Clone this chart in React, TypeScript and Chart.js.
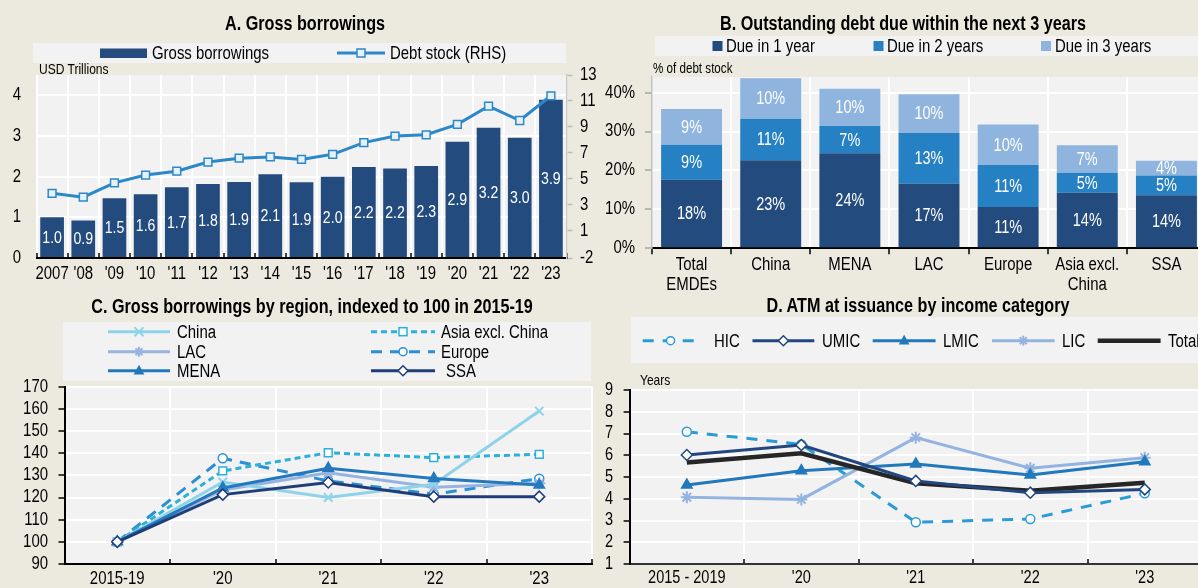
import React, { useEffect, useRef } from 'react';
import { Chart, registerables } from 'chart.js';

Chart.register(...registerables);

const FONT = '"Liberation Sans", Arial, sans-serif';
Chart.defaults.font.family = FONT;
Chart.defaults.color = '#000';

const NARROW = 0.83;
const TICK = 18;

const BG = '#ECEADF';
const PLOT = '#F2F2F2';
const NAVY = '#234B7E';
const MID = '#2581C4';
const LIGHT = '#8FB4DE';
const A_LINE = '#2C88C9';

// ---------- Panel A ----------
const yearsA = ['2007', "'08", "'09", "'10", "'11", "'12", "'13", "'14", "'15", "'16", "'17", "'18", "'19", "'20", "'21", "'22", "'23"];
const grossBorrowings = [1.0, 0.92, 1.47, 1.57, 1.74, 1.82, 1.87, 2.06, 1.86, 2.0, 2.24, 2.2, 2.26, 2.86, 3.2, 2.96, 3.89];
const debtStock = [3.9, 3.6, 4.7, 5.3, 5.6, 6.3, 6.6, 6.7, 6.5, 6.9, 7.8, 8.3, 8.4, 9.2, 10.6, 9.5, 11.4];
const leftTicksA = [0, 1, 2, 3, 4];
const rightTickValsA = [-1.08, 1, 3, 5, 7, 9, 11, 13];
const rightTickLabelsA = ['-2', '1', '3', '5', '7', '9', '11', '13'];

// ---------- Panel B ----------
const regionsB = [['Total', 'EMDEs'], 'China', 'MENA', 'LAC', 'Europe', ['Asia excl.', 'China'], 'SSA'];
const due1 = [17.6, 22.6, 24.4, 16.6, 10.6, 14.3, 13.6];
const due2 = [9.0, 10.7, 7.0, 13.0, 10.8, 5.1, 5.1];
const due3 = [9.2, 10.4, 9.6, 10.0, 10.4, 7.1, 3.8];
const pctTicksB = [0, 10, 20, 30, 40];

// ---------- Panel C ----------
const periodsC = ['2015-19', "'20", "'21", "'22", "'23"];
const chinaC = [100, 127, 120, 126, 159];
const asiaExChinaC = [100, 132, 140.2, 138, 139.5];
const lacC = [100, 123.4, 131.2, 124.6, 126.4];
const europeC = [100, 137.7, 127.5, 121.5, 128.5];
const menaC = [100, 124.3, 133.2, 128.6, 125.6];
const ssaC = [100, 121.3, 126.8, 120.4, 120.4];

// ---------- Panel D ----------
const periodsD = ['2015 - 2019', "'20", "'21", "'22", "'23"];
const hicD = [7.08, 6.5, 2.92, 3.07, 4.25];
const umicD = [6.01, 6.47, 4.82, 4.28, 4.43];
const lmicD = [4.63, 5.29, 5.6, 5.09, 5.7];
const licD = [4.07, 3.97, 6.81, 5.4, 5.89];
const totalD = [5.67, 6.09, 4.71, 4.37, 4.74];

const C_CHINA = '#8FD3EA';
const C_ASIA = '#2BB0D9';
const C_LAC = '#97B4E0';
const C_EUROPE = '#2A8FD4';
const C_MENA = '#2479BE';
const C_SSA = '#1F3E78';
const D_HIC = '#2A9BD8';
const D_UMIC = '#22467F';
const D_LMIC = '#2178BC';
const D_LIC = '#93B3E0';
const D_TOTAL = '#262626';

const plotBg = {
  id: 'plotBg',
  beforeDraw(chart: any) {
    const { ctx, chartArea: a } = chart;
    ctx.save();
    ctx.fillStyle = PLOT;
    ctx.fillRect(a.left, a.top, a.right - a.left, a.bottom - a.top);
    ctx.restore();
  },
};

// Draws the chart's text horizontally condensed (the reference uses a narrow face)
const narrowText = {
  id: 'narrowText',
  beforeDraw(chart: any) {
    const ctx: any = chart.ctx;
    if (ctx.__origFill) return;
    const orig = ctx.fillText;
    ctx.__origFill = orig;
    ctx.fillText = function (text: string, x: number, y: number, maxWidth?: number) {
      this.save();
      this.translate(x, y);
      this.scale(NARROW, 1);
      if (maxWidth !== undefined) orig.call(this, text, 0, 0, maxWidth / NARROW);
      else orig.call(this, text, 0, 0);
      this.restore();
    };
  },
  afterDraw(chart: any) {
    const ctx: any = chart.ctx;
    if (ctx.__origFill) { ctx.fillText = ctx.__origFill; delete ctx.__origFill; }
  },
};

function barValueLabels(fmt: (v: number) => string, size: number) {
  return {
    id: 'barValueLabels',
    afterDatasetsDraw(chart: any) {
      const ctx = chart.ctx;
      ctx.save();
      ctx.fillStyle = '#fff';
      ctx.font = `${size}px ${FONT}`;
      ctx.textAlign = 'center';
      ctx.textBaseline = 'middle';
      chart.data.datasets.forEach((ds: any, i: number) => {
        const meta = chart.getDatasetMeta(i);
        if (meta.type !== 'bar') return;
        meta.data.forEach((el: any, j: number) => {
          const p = el.getProps(['x', 'y', 'base'], true);
          ctx.fillText(fmt(ds.data[j]), p.x, (p.y + p.base) / 2 + 1);
        });
      });
      ctx.restore();
    },
  };
}

const noPad = (s: any) => { s.paddingTop = 0; s.paddingBottom = 0; s.paddingLeft = 0; s.paddingRight = 0; };

const baseOpts = {
  animation: false,
  responsive: false,
  events: [],
  plugins: { legend: { display: false }, tooltip: { enabled: false }, title: { display: false } },
};

function configA() {
  return {
    type: 'bar',
    data: {
      labels: yearsA,
      datasets: [
        {
          type: 'line', label: 'Debt stock (RHS)', data: debtStock, yAxisID: 'y2',
          borderColor: A_LINE, borderWidth: 3, pointStyle: 'rect', pointRadius: 5.5,
          pointBackgroundColor: '#E6F1FA', pointBorderColor: A_LINE, pointBorderWidth: 1.5, order: 0,
        },
        {
          type: 'bar', label: 'Gross borrowings', data: grossBorrowings, yAxisID: 'y',
          backgroundColor: NAVY, barPercentage: 0.76, categoryPercentage: 1, order: 1,
        },
      ],
    },
    options: {
      ...baseOpts,
      layout: { padding: { top: 10, left: 0, right: 0, bottom: 0 } },
      scales: {
        x: {
          grid: { offset: true, color: '#fff', lineWidth: 2, tickColor: '#000', tickLength: -5, tickWidth: 1.5 },
          border: { color: '#000', width: 2 },
          ticks: { padding: 10, font: { size: TICK }, maxRotation: 0, autoSkip: false },
          afterFit: (s: any) => { s.height = 32; noPad(s); },
        },
        y: {
          position: 'left', min: 0, max: 4.5,
          afterBuildTicks: (s: any) => { s.ticks = leftTicksA.map((v) => ({ value: v })); },
          grid: { color: '#fff', lineWidth: 2, drawTicks: false },
          border: { display: false },
          ticks: { padding: 15.5, font: { size: TICK }, autoSkip: false },
          afterFit: (s: any) => { s.width = 36.5; noPad(s); },
        },
        y2: {
          position: 'right', min: -1.08, max: 13,
          afterBuildTicks: (s: any) => { s.ticks = rightTickValsA.map((v) => ({ value: v })); },
          grid: { drawOnChartArea: false, tickColor: '#BDBDBD', tickLength: 6, tickWidth: 1.5 },
          border: { color: '#C8C8C8', width: 1.5 },
          ticks: { padding: 7.5, font: { size: TICK }, autoSkip: false, callback: (_v: any, i: number) => rightTickLabelsA[i] },
          afterFit: (s: any) => { s.width = 33.5; noPad(s); },
        },
      },
    },
    plugins: [plotBg, narrowText, barValueLabels((v) => v.toFixed(1), 17)],
  };
}

function configB() {
  const mk = (label: string, data: number[], color: string) => ({
    label, data, backgroundColor: color, barPercentage: 0.77, categoryPercentage: 1,
  });
  return {
    type: 'bar',
    data: {
      labels: regionsB,
      datasets: [mk('Due in 1 year', due1, NAVY), mk('Due in 2 years', due2, MID), mk('Due in 3 years', due3, LIGHT)],
    },
    options: {
      ...baseOpts,
      layout: { padding: { top: 10, left: 0, right: 4, bottom: 0 } },
      scales: {
        x: {
          stacked: true,
          grid: { offset: true, color: '#fff', lineWidth: 2, tickColor: '#000', tickLength: 6, tickWidth: 1.5 },
          border: { color: '#000', width: 2 },
          ticks: { padding: 1, font: { size: TICK, lineHeight: 1.1 }, maxRotation: 0, autoSkip: false },
          afterFit: (s: any) => { s.height = 51.7; noPad(s); },
        },
        y: {
          stacked: true, min: 0, max: 44,
          afterBuildTicks: (s: any) => { s.ticks = pctTicksB.map((v) => ({ value: v })); },
          grid: { color: '#fff', lineWidth: 2, tickColor: '#A6A6A6', tickLength: 7, tickWidth: 1.5 },
          border: { color: '#BFBFBF', width: 1.5 },
          ticks: { padding: 10, font: { size: TICK }, autoSkip: false, callback: (v: any) => v + '%' },
          afterFit: (s: any) => { s.width = 52; noPad(s); },
        },
      },
    },
    plugins: [plotBg, narrowText, barValueLabels((v) => Math.round(v) + '%', 17.5)],
  };
}

function lineDs(label: string, data: number[], color: string, o: any) {
  return {
    label, data, borderColor: color, borderWidth: 3, pointBorderColor: color,
    pointBackgroundColor: '#fff', pointBorderWidth: 1.5, pointRadius: 5, tension: 0, ...o,
  };
}

function lineScales(yMin: number, yMax: number, yStep: number, yWidth: number, size: number) {
  return {
    x: {
      offset: true,
      grid: { offset: true, color: '#fff', lineWidth: 2, tickColor: '#000', tickLength: -5, tickWidth: 1.5 },
      border: { color: '#000', width: 2 },
      ticks: { padding: 9, font: { size }, maxRotation: 0, autoSkip: false },
      afterFit: (s: any) => { s.height = 24; noPad(s); },
    },
    y: {
      min: yMin, max: yMax,
      ticks: { stepSize: yStep, padding: 10.5, font: { size }, autoSkip: false },
      grid: { color: '#fff', lineWidth: 2, tickColor: '#000', tickLength: 6, tickWidth: 1.5 },
      border: { color: '#000', width: 2 },
      afterFit: (s: any) => { s.width = yWidth; noPad(s); },
    },
  };
}

function configC() {
  return {
    type: 'line',
    data: {
      labels: periodsC,
      datasets: [
        lineDs('China', chinaC, C_CHINA, { pointStyle: 'crossRot', pointRadius: 6, pointBorderWidth: 2, order: 2 }),
        lineDs('Asia excl. China', asiaExChinaC, C_ASIA, { borderDash: [6, 4], pointStyle: 'rect', pointRadius: 5.5, order: 4 }),
        lineDs('LAC', lacC, C_LAC, { pointStyle: 'star', pointRadius: 6, pointBorderWidth: 2, order: 3 }),
        lineDs('Europe', europeC, C_EUROPE, { borderDash: [11, 8], pointStyle: 'circle', pointRadius: 4.5, order: 5 }),
        lineDs('MENA', menaC, C_MENA, { pointStyle: 'triangle', pointRadius: 6, pointBackgroundColor: C_MENA, order: 1 }),
        lineDs('SSA', ssaC, C_SSA, { pointStyle: 'rectRot', pointRadius: 5.5, order: 0 }),
      ],
    },
    options: {
      ...baseOpts,
      layout: { padding: { top: 10.7, left: 0, right: 7.6, bottom: 0 } },
      scales: lineScales(90, 170, 10, 64.5, TICK),
    },
    plugins: [plotBg, narrowText],
  };
}

function configD() {
  const sc: any = lineScales(1, 9, 1, 29.6, 17.5);
  sc.x.border.color = '#333';
  return {
    type: 'line',
    data: {
      labels: periodsD,
      datasets: [
        lineDs('HIC', hicD, D_HIC, { borderDash: [11, 9], pointStyle: 'circle', pointRadius: 4.5, order: 4 }),
        lineDs('UMIC', umicD, D_UMIC, { pointStyle: 'rectRot', pointRadius: 5.5, order: 0 }),
        lineDs('LMIC', lmicD, D_LMIC, { pointStyle: 'triangle', pointRadius: 6, pointBackgroundColor: D_LMIC, order: 2 }),
        lineDs('LIC', licD, D_LIC, { pointStyle: 'star', pointRadius: 6, pointBorderWidth: 2, order: 3 }),
        lineDs('Total', totalD, D_TOTAL, { borderWidth: 4.5, pointRadius: 0, order: 1 }),
      ],
    },
    options: {
      ...baseOpts,
      layout: { padding: { top: 10, left: 0, right: 6.6, bottom: 0 } },
      scales: sc,
    },
    plugins: [plotBg, narrowText],
  };
}

function ChartCanvas({ left, top, width, height, config }: any) {
  const ref = useRef<HTMLCanvasElement | null>(null);
  useEffect(() => {
    const c = new Chart(ref.current as HTMLCanvasElement, config() as any);
    return () => c.destroy();
  }, []);
  return (
    <canvas ref={ref} width={width} height={height}
      style={{ position: 'absolute', left, top, width, height, display: 'block' }} />
  );
}

function Label({ x, cy, size = 18, bold = false, center = false, children }: any) {
  const lh = Math.round(size * 1.2);
  const style: any = {
    position: 'absolute', top: cy - lh / 2, lineHeight: lh + 'px', fontSize: size,
    fontFamily: FONT, fontWeight: bold ? 'bold' : 'normal', whiteSpace: 'nowrap', color: '#000',
    transform: `scaleX(${NARROW})`,
  };
  if (center) { style.left = x - 400; style.width = 800; style.textAlign = 'center'; style.transformOrigin = 'center center'; }
  else { style.left = x; style.transformOrigin = 'left center'; }
  return <div style={style}>{children}</div>;
}

function Box({ l, t, w, h, c }: any) {
  return <div style={{ position: 'absolute', left: l, top: t, width: w, height: h, background: c }} />;
}

function marker(type: string, cx: number, cy: number, r: number, stroke: string, fill: string, sw: number) {
  switch (type) {
    case 'circle':
      return <circle cx={cx} cy={cy} r={r} fill={fill} stroke={stroke} strokeWidth={sw} />;
    case 'rect':
      return <rect x={cx - r} y={cy - r} width={2 * r} height={2 * r} fill={fill} stroke={stroke} strokeWidth={sw} />;
    case 'rectRot':
      return <polygon points={`${cx},${cy - r} ${cx + r},${cy} ${cx},${cy + r} ${cx - r},${cy}`} fill={fill} stroke={stroke} strokeWidth={sw} />;
    case 'triangle':
      return <polygon points={`${cx},${cy - r} ${cx + r * 0.9},${cy + r * 0.65} ${cx - r * 0.9},${cy + r * 0.65}`} fill={stroke} />;
    case 'crossRot':
      return (
        <g stroke={stroke} strokeWidth={sw}>
          <line x1={cx - r} y1={cy - r} x2={cx + r} y2={cy + r} />
          <line x1={cx - r} y1={cy + r} x2={cx + r} y2={cy - r} />
        </g>
      );
    case 'star':
      return (
        <g stroke={stroke} strokeWidth={sw}>
          <line x1={cx - r * 0.7} y1={cy - r * 0.7} x2={cx + r * 0.7} y2={cy + r * 0.7} />
          <line x1={cx - r * 0.7} y1={cy + r * 0.7} x2={cx + r * 0.7} y2={cy - r * 0.7} />
          <line x1={cx - r} y1={cy} x2={cx + r} y2={cy} />
          <line x1={cx} y1={cy - r} x2={cx} y2={cy + r} />
        </g>
      );
    default:
      return null;
  }
}

function LegendLine({ x1, x2, y, color, width = 3, dash, mtype, r = 5, fill = '#fff', sw = 1.5 }: any) {
  const cx = (x1 + x2) / 2;
  return (
    <g>
      <line x1={x1} y1={y} x2={x2} y2={y} stroke={color} strokeWidth={width} strokeDasharray={dash} />
      {mtype ? marker(mtype, cx, y, r, color, fill, sw) : null}
    </g>
  );
}

export default function App() {
  return (
    <div style={{ position: 'absolute', left: 0, top: 0, width: 1198, height: 588, overflow: 'hidden', background: BG, fontFamily: FONT }}>
      {/* legend boxes */}
      <Box l={32.5} t={43} w={533.5} h={20} c={PLOT} />
      <Box l={654.5} t={36} w={560} h={20} c={PLOT} />
      <Box l={63} t={322} w={528} h={59} c={PLOT} />
      <Box l={630.5} t={317} w={580} h={46} c={PLOT} />

      <ChartCanvas left={0} top={65} width={600} height={225} config={configA} />
      <ChartCanvas left={600} top={67} width={610} height={233} config={configB} />
      <ChartCanvas left={0} top={376} width={600} height={212} config={configC} />
      <ChartCanvas left={600} top={380} width={610} height={208} config={configD} />

      <svg width={1198} height={588} style={{ position: 'absolute', left: 0, top: 0, pointerEvents: 'none' }}>
        {/* A legend */}
        <rect x={100} y={48.5} width={47} height={9.5} fill={NAVY} />
        <LegendLine x1={337} x2={385} y={53} color={A_LINE} width={3} mtype="rect" r={4} fill="#E6F1FA" />
        {/* B legend */}
        <rect x={712.5} y={41} width={10} height={10} fill={NAVY} />
        <rect x={873.5} y={41} width={10} height={10} fill={MID} />
        <rect x={1041} y={41} width={10} height={10} fill={LIGHT} />
        {/* C legend */}
        <LegendLine x1={108} x2={170} y={331.7} color={C_CHINA} mtype="crossRot" r={4.5} sw={2} />
        <LegendLine x1={108} x2={170} y={351.7} color={C_LAC} mtype="star" r={5} sw={2} />
        <LegendLine x1={108} x2={170} y={370.7} color={C_MENA} mtype="triangle" r={6} />
        <LegendLine x1={371} x2={435} y={331.7} color={C_ASIA} dash="6 4" mtype="rect" r={4} />
        <LegendLine x1={371} x2={435} y={351.7} color={C_EUROPE} dash="11 8" mtype="circle" r={4} />
        <LegendLine x1={371} x2={435} y={370.7} color={C_SSA} mtype="rectRot" r={5} />
        {/* D legend */}
        <LegendLine x1={642.7} x2={698.4} y={340.7} color={D_HIC} dash="11 9" mtype="circle" r={4} />
        <LegendLine x1={752.5} x2={814.3} y={340.7} color={D_UMIC} mtype="rectRot" r={5} />
        <LegendLine x1={872.7} x2={935.6} y={340.7} color={D_LMIC} mtype="triangle" r={6} />
        <LegendLine x1={992} x2={1054.6} y={340.7} color={D_LIC} mtype="star" r={5} sw={2} />
        <LegendLine x1={1097.7} x2={1160.6} y={340.7} color={D_TOTAL} width={4.5} />
      </svg>

      {/* Panel A texts */}
      <Label x={304.5} cy={23} size={19.5} bold center>A. Gross borrowings</Label>
      <Label x={152} cy={53}>Gross borrowings</Label>
      <Label x={390} cy={53}>Debt stock (RHS)</Label>
      <Label x={39} cy={69} size={14.5}>USD Trillions</Label>

      {/* Panel B texts */}
      <Label x={903} cy={23} size={19.5} bold center>B. Outstanding debt due within the next 3 years</Label>
      <Label x={726} cy={46}>Due in 1 year</Label>
      <Label x={887} cy={46}>Due in 2 years</Label>
      <Label x={1055} cy={46}>Due in 3 years</Label>
      <Label x={653} cy={68} size={14}>% of debt stock</Label>

      {/* Panel C texts */}
      <Label x={312} cy={306.7} size={19.5} bold center>C. Gross borrowings by region, indexed to 100 in 2015-19</Label>
      <Label x={177} cy={331.7}>China</Label>
      <Label x={177} cy={351.7}>LAC</Label>
      <Label x={177} cy={370.7}>MENA</Label>
      <Label x={441} cy={331.7}>Asia excl. China</Label>
      <Label x={441} cy={351.7}>Europe</Label>
      <Label x={446} cy={370.7}>SSA</Label>

      {/* Panel D texts */}
      <Label x={917.6} cy={305} size={19.5} bold center>D. ATM at issuance by income category</Label>
      <Label x={713.7} cy={340.7}>HIC</Label>
      <Label x={822} cy={340.7}>UMIC</Label>
      <Label x={942.5} cy={340.7}>LMIC</Label>
      <Label x={1061.5} cy={340.7}>LIC</Label>
      <Label x={1167.5} cy={340.7}>Total</Label>
      <Label x={640} cy={380.7} size={14.5}>Years</Label>
    </div>
  );
}
